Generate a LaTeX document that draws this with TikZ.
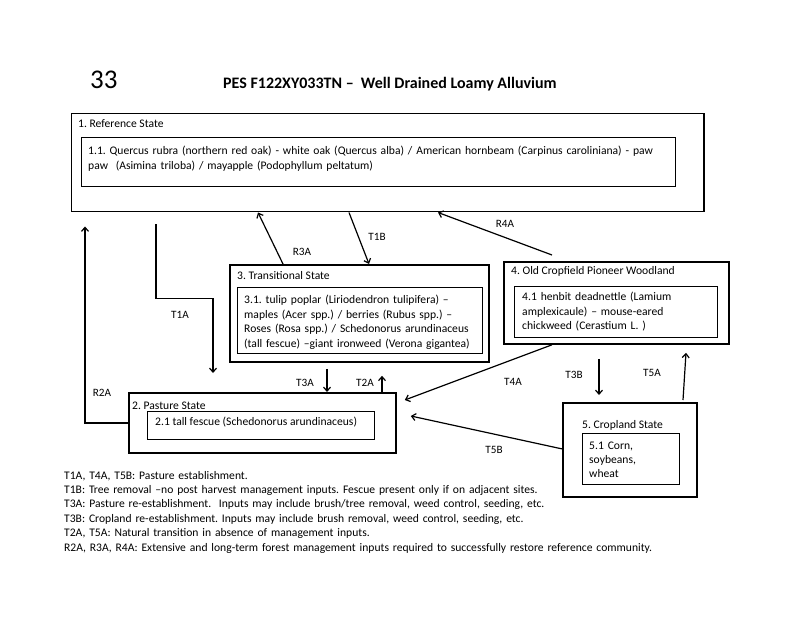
\documentclass[tikz,border=0pt]{standalone}
\usepackage{fontspec}
\setmainfont{Carlito}
\usetikzlibrary{arrows.meta}
\frenchspacing

\begin{document}
\begin{tikzpicture}[x=1pt,y=-1pt,>={Straight Barb[length=4pt,width=7pt]},
  statebox/.style={draw,line width=1.8pt,anchor=north west,inner sep=0pt},
  phasebox/.style={draw,line width=1.2pt,anchor=north west,inner sep=0pt},
  txt/.style={anchor=base west,inner sep=0pt,align=left,font=\fontsize{11.6}{14.4}\selectfont},
  lab/.style={inner sep=0pt,font=\fontsize{11.2}{12}\selectfont},
  arr/.style={->,line width=1.2pt}]
\useasboundingbox (0,0) rectangle (800,617);

% title
\node[anchor=base west,inner sep=0pt,font=\fontsize{27}{30}\selectfont] (num) at (90,89) {33};
\node[anchor=base west,inner sep=0pt,font=\fontsize{16}{18}\selectfont\bfseries] (title) at (223,89) {PES F122XY033TN --\ \ Well Drained Loamy Alluvium};

% states
\node[statebox,minimum width=632.5pt,minimum height=98pt] (ref) at (70.5,112.7) {};
\node[phasebox,minimum width=594pt,minimum height=49pt] (refin) at (80.7,136.7) {};
\node[txt] (reft) at (78,128) {1. Reference State};
\node[txt,text width=590pt] (refint) at (88,155) {1.1. Quercus rubra (northern red oak) - white oak (Quercus alba) / American hornbeam (Carpinus caroliniana) - paw\\paw\ \ (Asimina triloba) / mayapple (Podophyllum peltatum)};

\node[statebox,minimum width=259pt,minimum height=97pt] (trans) at (229,264) {};
\node[phasebox,minimum width=245pt,minimum height=66pt] (transin) at (237,287) {};
\node[txt] (transt) at (237,280) {3. Transitional State};
\node[txt,text width=240pt] (transint) at (244,304) {3.1. tulip poplar (Liriodendron tulipifera) --\\maples (Acer spp.) / berries (Rubus spp.) --\\Roses (Rosa spp.) / Schedonorus arundinaceus\\(tall fescue) --giant ironweed (Verona gigantea)};

\node[statebox,minimum width=225pt,minimum height=82pt] (wood) at (503,261) {};
\node[phasebox,minimum width=203pt,minimum height=51pt] (woodin) at (514,286) {};
\node[txt] (woodt) at (511,275) {4. Old Cropfield Pioneer Woodland};
\node[txt,text width=195pt] (woodint) at (522,301) {4.1 henbit deadnettle (Lamium\\amplexicaule) -- mouse-eared\\chickweed (Cerastium L. )};

\node[statebox,minimum width=267pt,minimum height=60pt] (pasture) at (128,392) {};
\node[phasebox,minimum width=227pt,minimum height=28pt] (pasturein) at (147,411) {};
\node[txt] (pasturet) at (132,409) {2. Pasture State};
\node[txt] (pastureint) at (155,425) {2.1 tall fescue (Schedonorus arundinaceus)};

\node[statebox,minimum width=134pt,minimum height=94pt] (crop) at (562,402) {};
\node[phasebox,minimum width=97pt,minimum height=51pt] (cropin) at (582,433) {};
\node[txt] (cropt) at (582,428) {5. Cropland State};
\node[txt,text width=90pt] (cropint) at (589,449) {5.1 Corn,\\soybeans,\\wheat};

% transitions
\draw[arr] ([xshift=54pt]trans.north west) -- ([xshift=187.5pt]ref.south west);
\draw[arr] ([xshift=278.5pt]ref.south west) -- ([xshift=140pt]trans.north west);
\draw[arr] ([xshift=49pt,yshift=6pt]wood.north west) -- ([xshift=367.5pt]ref.south west);
\draw[arr] ([xshift=85.5pt,yshift=-12pt]ref.south west) -- ++(0,74) -- ++(57,0) -- ([xshift=85pt,yshift=19pt]pasture.north west);
\draw[arr] (pasture.west) -- ++(-43,0) -- ([xshift=14.5pt,yshift=-14pt]ref.south west);
\draw[arr] ([xshift=98pt,yshift=-6pt]trans.south west) -- ([xshift=199pt]pasture.north west);
\draw[arr] ([xshift=254pt]pasture.north west) -- ([xshift=153pt,yshift=-13pt]trans.south west);
\draw[arr] ([xshift=49pt]wood.south west) -- ([xshift=8pt,yshift=-8pt]pasture.north east);
\draw[arr] ([yshift=1pt]crop.west) -- ([xshift=14pt,yshift=-24pt]pasture.north east);
\draw[arr] ([xshift=96pt,yshift=-14pt]wood.south west) -- ([xshift=37pt,yshift=7pt]crop.north west);
\draw[arr] ([xshift=121pt,yshift=2pt]crop.north west) -- ([xshift=183pt,yshift=-8pt]wood.south west);

\node[lab] (r3a) at (302,252) {R3A};
\node[lab] (t1b) at (377,237) {T1B};
\node[lab] (r4a) at (505,224) {R4A};
\node[lab] (t1a) at (180,315) {T1A};
\node[lab] (r2a) at (102,393) {R2A};
\node[lab] (t3a) at (305,383) {T3A};
\node[lab] (t2a) at (365,383) {T2A};
\node[lab] (t4a) at (513,382) {T4A};
\node[lab] (t3b) at (574,375) {T3B};
\node[lab] (t5a) at (652,373) {T5A};
\node[lab] (t5b) at (494,450) {T5B};

% legend
\node[txt,text width=700pt] (legend) at (64,479) {T1A, T4A, T5B: Pasture establishment.\\
T1B: Tree removal --no post harvest management inputs. Fescue present only if on adjacent sites.\\
T3A: Pasture re-establishment.\ \ Inputs may include brush/tree removal, weed control, seeding, etc.\\
T3B: Cropland re-establishment. Inputs may include brush removal, weed control, seeding, etc.\\
T2A, T5A: Natural transition in absence of management inputs.\\
R2A, R3A, R4A: Extensive and long-term forest management inputs required to successfully restore reference community.};

\end{tikzpicture}
\end{document}
